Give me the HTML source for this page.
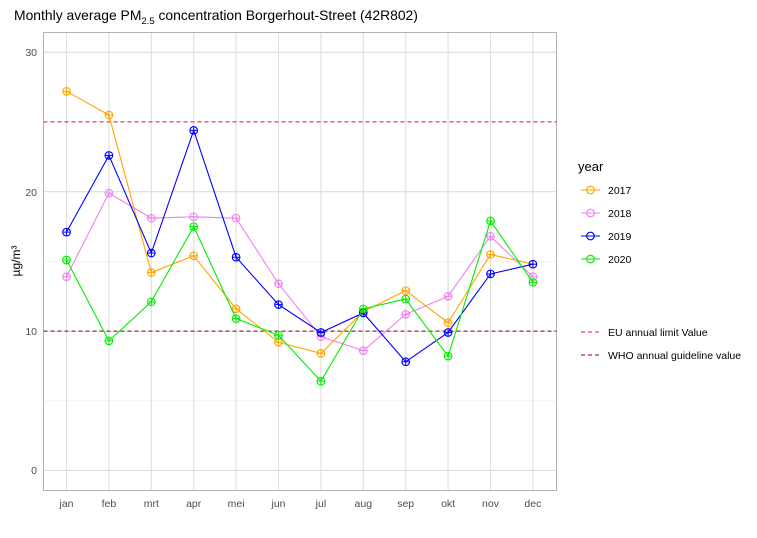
<!DOCTYPE html>
<html><head><meta charset="utf-8"><style>
body{margin:0;background:#fff}
svg text{font-family:"Liberation Sans",Arial,sans-serif}
</style></head><body>
<svg id="s" width="757" height="533" xmlns="http://www.w3.org/2000/svg">
<rect width="757" height="533" fill="#fff"/>
<g id="grid" stroke="#ebebeb" stroke-width="0.6"></g>
<g id="grid2" stroke="#dedede" stroke-width="1.1"></g>
<rect x="43.5" y="32.5" width="513" height="458" fill="none" stroke="#b3b3b3" stroke-width="1"/>
<line x1="43.5" x2="556.5" y1="121.9" y2="121.9" stroke="#e41a1c" stroke-dasharray="4,3" stroke-width="1"/>
<line x1="43.5" x2="556.5" y1="331.1" y2="331.1" stroke="#8b0000" stroke-dasharray="4,3" stroke-width="1"/>
<g id="series"></g>
<text x="14" y="20" font-size="13.9" fill="#000">Monthly average PM<tspan font-size="9.5" dy="4">2.5</tspan><tspan dy="-4"> concentration Borgerhout-Street (42R802)</tspan></text>
<g font-size="10.5" fill="#4d4d4d" text-anchor="end">
<text x="37" y="56">30</text><text x="37" y="196">20</text><text x="37" y="335">10</text><text x="37" y="474">0</text>
</g>
<g font-size="10.5" fill="#4d4d4d" text-anchor="middle">
<text x="66.5" y="507">jan</text><text x="108.9" y="507">feb</text><text x="151.3" y="507">mrt</text><text x="193.7" y="507">apr</text><text x="236.1" y="507">mei</text><text x="278.5" y="507">jun</text><text x="320.9" y="507">jul</text><text x="363.3" y="507">aug</text><text x="405.7" y="507">sep</text><text x="448.1" y="507">okt</text><text x="490.5" y="507">nov</text><text x="532.9" y="507">dec</text>
</g>
<text transform="translate(20,261) rotate(-90)" font-size="12" text-anchor="middle" fill="#000">µg/m³</text>
<text x="578" y="171" font-size="13" fill="#000">year</text>
<g id="leg"></g>
<g font-size="10.5" fill="#000">
<text x="608" y="194">2017</text><text x="608" y="217">2018</text><text x="608" y="240">2019</text><text x="608" y="263">2020</text>
<text x="608" y="336">EU annual limit Value</text><text x="608" y="359">WHO annual guideline value</text>
</g>
<line x1="581" x2="600" y1="332" y2="332" stroke="#e41a1c" stroke-dasharray="4,3"/>
<line x1="581" x2="600" y1="355" y2="355" stroke="#8b0000" stroke-dasharray="4,3"/>
</svg>
<script>
var NS="http://www.w3.org/2000/svg";
function el(p,t,a){var e=document.createElementNS(NS,t);for(var k in a)e.setAttribute(k,a[k]);p.appendChild(e);return e;}
var X=function(i){return 66.5+i*42.4}, Y=function(v){return 470.5-v*13.94};
var g=document.getElementById('grid'),g2=document.getElementById('grid2');
[5,15,25].forEach(function(v){el(g,'line',{x1:43.5,x2:556.5,y1:Y(v),y2:Y(v)})});
[0,10,20,30].forEach(function(v){el(g2,'line',{x1:43.5,x2:556.5,y1:Y(v),y2:Y(v)})});
for(var i=0;i<12;i++)el(g2,'line',{x1:X(i),x2:X(i),y1:32.5,y2:490.5});
var data=[
["#FFA500",[27.2,25.5,14.2,15.4,11.6,9.2,8.4,11.4,12.9,10.6,15.5,14.8]],
["#EE82EE",[13.9,19.9,18.1,18.2,18.1,13.4,9.6,8.6,11.2,12.5,16.8,13.9]],
["#0000FF",[17.1,22.6,15.6,24.4,15.3,11.9,9.9,11.3,7.8,9.9,14.1,14.8]],
["#00EE00",[15.1,9.3,12.1,17.5,10.9,9.7,6.4,11.6,12.3,8.2,17.9,13.5]]];
var s=document.getElementById('series'),lg=document.getElementById('leg');
function mark(p,x,y,c){el(p,'circle',{cx:x,cy:y,r:3.8,fill:'none',stroke:c,'stroke-width':1.1});el(p,'line',{x1:x-3.8,x2:x+3.8,y1:y,y2:y,stroke:c,'stroke-width':1});el(p,'line',{x1:x,x2:x,y1:y-3.8,y2:y+3.8,stroke:c,'stroke-width':1});}
data.forEach(function(d,j){
 var pts=d[1].map(function(v,i){return X(i)+','+Y(v)}).join(' ');
 el(s,'polyline',{points:pts,fill:'none',stroke:d[0],'stroke-width':1.1});
 d[1].forEach(function(v,i){mark(s,X(i),Y(v),d[0])});
 var ly=190+j*23;
 el(lg,'line',{x1:581,x2:600,y1:ly,y2:ly,stroke:d[0],'stroke-width':1.1});
 el(lg,'circle',{cx:590.5,cy:ly,r:3.8,fill:'none',stroke:d[0],'stroke-width':1.1});
});
</script>
</body></html>
